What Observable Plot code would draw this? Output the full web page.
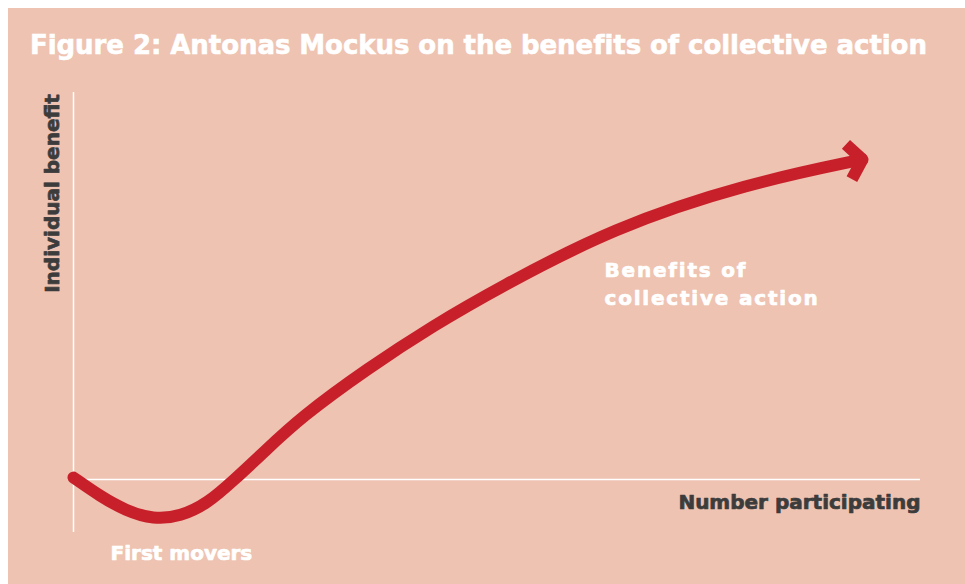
<!DOCTYPE html>
<html>
<head>
<meta charset="utf-8">
<script src="https://cdn.jsdelivr.net/npm/d3@7"></script>
<script src="https://cdn.jsdelivr.net/npm/@observablehq/plot@0.6"></script>
<style>
  html, body { margin: 0; padding: 0; background: #ffffff; }
  #wrap { position: absolute; left: 8px; top: 8px; width: 957px; height: 576px; background: #EEC3B1; overflow: hidden; }
  #title { position: absolute; left: 22px; top: 21px; font-family: "DejaVu Sans", sans-serif; font-weight: bold; font-size: 26px; color: #ffffff; white-space: nowrap; line-height: 32px; -webkit-text-stroke: 0.6px #ffffff; paint-order: stroke fill; }
  #chart { position: absolute; left: 0; top: 72px; }
</style>
</head>
<body>
<div id="wrap">
  <div id="title">Figure 2: Antonas Mockus on the benefits of collective action</div>
  <div id="chart"></div>
</div>
<script>
// Curve: number participating (x) vs individual benefit (y)
const curveX = [0, 3.19, 6.14, 9.45, 12.63, 15.82, 18.89, 22.43, 26.80, 34.71, 42.50, 50.06, 63.75, 79.57, 93.15];
const curveY = [0.5, -4.39, -8.01, -10.34, -9.56, -6.20, -0.26, 6.98, 16.02, 28.68, 39.79, 49.35, 65.12, 76.49, 82.69];

// Arrowhead at the end of the curve
const arrowX = [91.2, 93.15, 91.9];
const arrowY = [86.6, 82.69, 77.6];

// Axis extents
const xAxisEnd = 100;
const yAxisTop = 100;
const yAxisBottom = -13.7;

// Labels
const labelTexts = ["Individual benefit", "Number participating", "First movers", "Benefits of", "collective action"];
const labelX = [-2.42, 100, 4.37, 62.69, 62.69];
const labelY = [73.9, -7.75, -20.9, 52.2, 44.96];

const curve = curveX.map((x, i) => ({x, y: curveY[i]}));
const arrow = arrowX.map((x, i) => ({x, y: arrowY[i]}));
const labels = labelTexts.map((t, i) => ({t, x: labelX[i], y: labelY[i]}));

const red = "#C8202A";
const dark = "#3C3C3C";
const white = "#ffffff";
const font = { fontSize: 20, fontWeight: "bold", fontFamily: "DejaVu Sans", strokeWidth: 0.7 };

const plot = Plot.plot({
  width: 957,
  height: 504,
  marginLeft: 65,
  marginRight: 45,
  marginTop: 12,
  marginBottom: 52,
  style: { background: "transparent", overflow: "visible" },
  x: { domain: [0, xAxisEnd], axis: null },
  y: { domain: [yAxisBottom, yAxisTop], axis: null },
  marks: [
    Plot.ruleY([0], { x1: 0, x2: xAxisEnd, stroke: white, strokeWidth: 1.5 }),
    Plot.ruleX([0], { y1: yAxisBottom, y2: yAxisTop, stroke: white, strokeWidth: 1.5 }),
    Plot.line(curve, { x: "x", y: "y", curve: "basis", stroke: red, strokeWidth: 12, strokeLinecap: "round" }),
    Plot.line(arrow, { x: "x", y: "y", stroke: red, strokeWidth: 12, strokeLinecap: "butt", strokeLinejoin: "miter" }),
    Plot.text(labels.slice(0, 1), { x: "x", y: "y", text: "t", rotate: -90, textAnchor: "middle", lineAnchor: "middle", fill: dark, stroke: dark, ...font }),
    Plot.text(labels.slice(1, 2), { x: "x", y: "y", text: "t", textAnchor: "end", lineAnchor: "bottom", fill: dark, stroke: dark, ...font }),
    Plot.text(labels.slice(2, 3), { x: "x", y: "y", text: "t", textAnchor: "start", lineAnchor: "bottom", fill: white, stroke: white, ...font }),
    Plot.text(labels.slice(3), { x: "x", y: "y", text: "t", textAnchor: "start", lineAnchor: "bottom", fill: white, stroke: white, ...font })
  ]
});
document.getElementById("chart").appendChild(plot);
d3.select(plot).selectAll("text").filter(function() {
  const s = this.textContent;
  return s === "Benefits of" || s === "collective action";
}).attr("letter-spacing", "1.8px");

// fit title to the reference width
const title = document.getElementById("title");
const target = 896;
const w = title.getBoundingClientRect().width;
const n = title.textContent.length - 1;
title.style.letterSpacing = ((target - w) / n) + "px";
</script>
</body>
</html>
